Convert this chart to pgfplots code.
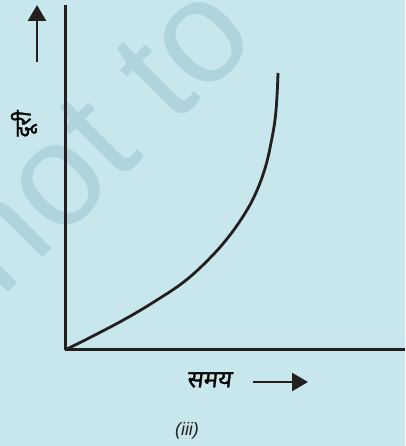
\documentclass[border=0pt]{standalone}
\usepackage{pgfplots}
\pgfplotsset{compat=1.18}
\usetikzlibrary{arrows.meta}
\usepackage{fontspec}
\setmainfont{Liberation Sans}
\newfontfamily\deva[Script=Devanagari, FakeSlant=0.12, FakeBold=1.2]{Noto Sans}
\definecolor{bgblue}{RGB}{200,231,237}
\definecolor{wmark}{RGB}{176,212,219}
\definecolor{ink}{RGB}{35,31,32}

\begin{document}
\begin{tikzpicture}[x=1pt,y=1pt]
  \path[use as bounding box, fill=bgblue] (0,0) rectangle (405,446);
  \clip (0,0) rectangle (405,446);
  % watermark
  \node[rotate=45, text=wmark, font=\fontsize{146}{146}\selectfont] at (98,309) {not to};

  \begin{axis}[
    at={(65pt,96pt)}, anchor=origin,
    scale only axis, width=340pt, height=345pt,
    xmin=0, xmax=340, ymin=0, ymax=345,
    axis lines=left,
    axis line style={-, line width=3pt, color=ink},
    ticks=none,
    clip=false,
    xlabel={\deva\fontsize{24}{24}\selectfont समय},
    ylabel={\deva\fontsize{22}{22}\selectfont दूरी},
    every axis x label/.style={at={(axis cs:144,-30)}, anchor=center},
    every axis y label/.style={at={(axis cs:-41,225)}, anchor=center, rotate=90},
  ]
    \addplot[ink, line width=2.8pt, smooth, tension=0.65] coordinates {
      (0,0) (30,15) (62,32) (92,50) (120,69) (145,92)
      (165,115) (182,140) (193,162) (201,185) (206,207) (210,230) (212,254) (213,277)
    };
    \draw[ink, line width=2.6pt, -{Triangle[length=16pt, width=18pt]}]
      (axis cs:-28,288) -- (axis cs:-28,345);
    \draw[ink, line width=2.6pt, -{Triangle[length=16pt, width=18pt]}]
      (axis cs:188,-32) -- (axis cs:243,-32);
    \node[ink, font=\itshape\fontsize{18}{18}\selectfont] at (axis cs:122,-81) {(iii)};
  \end{axis}
\end{tikzpicture}
\end{document}
